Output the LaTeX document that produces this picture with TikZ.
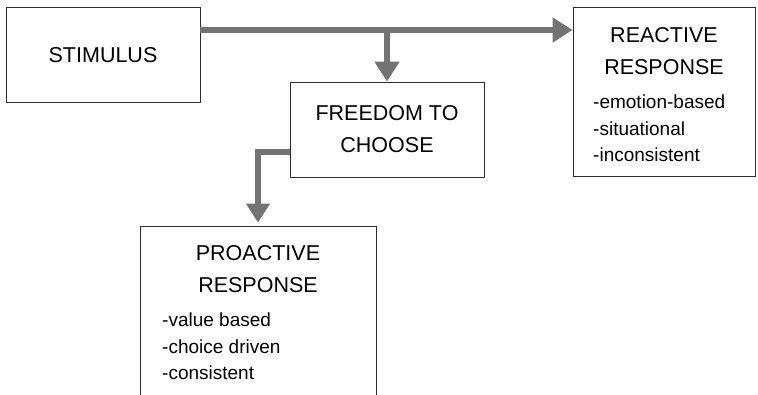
\documentclass[tikz,border=0pt]{standalone}
\usepackage{fontspec}
\setmainfont{Liberation Sans}
\usetikzlibrary{arrows.meta}
\definecolor{arrowgray}{RGB}{115,115,115}
\definecolor{boxline}{RGB}{45,45,45}
\begin{document}
\begin{tikzpicture}[x=1pt,y=-1pt,
  box/.style={draw=boxline, line width=0.9pt, fill=white, inner sep=0pt},
  flow/.style={draw=arrowgray, line width=6pt, -{Triangle[length=20pt,width=24pt]}},
  title/.style={font=\fontsize{21.5}{32}\selectfont, align=center, inner sep=0pt},
  items/.style={font=\fontsize{19}{26.5}\selectfont, align=left, inner sep=0pt, anchor=west}]
\useasboundingbox (0,0) rectangle (758,395);
\clip (0,0) rectangle (758,395);
% boxes
\node[box, minimum width=194pt, minimum height=95pt] (stim) at (103,54.5) {};
\node[box, minimum width=194pt, minimum height=95pt] (free) at (387,129.5) {};
\node[box, minimum width=182pt, minimum height=169pt] (react) at (664,91.5) {};
\node[box, minimum width=236pt, minimum height=190pt] (pro) at (258,321) {};
% texts
\node[title] (stimT) at (103,55) {STIMULUS};
\node[title] (freeT) at (387,129) {FREEDOM TO\\CHOOSE};
\node[title] (reactT) at (664,51) {REACTIVE\\RESPONSE};
\node[items] (reactL) at (593,128.5) {-emotion-based\\-situational\\-inconsistent};
\node[title] (proT) at (258,269) {PROACTIVE\\RESPONSE};
\node[items] (proL) at (162,346.5) {-value based\\-choice driven\\-consistent};
% connectors
\coordinate (j) at (387,30);
\coordinate (fk) at ([yshift=-22.5pt]free.west);
\draw[flow] (stim.east |- j) -- (react.west |- j);
\draw[flow] (j) -- (free.north);
\draw[flow, -{Triangle[length=19pt,width=23pt]}, shorten >=3pt] (fk) -| (pro.north);
\end{tikzpicture}
\end{document}
